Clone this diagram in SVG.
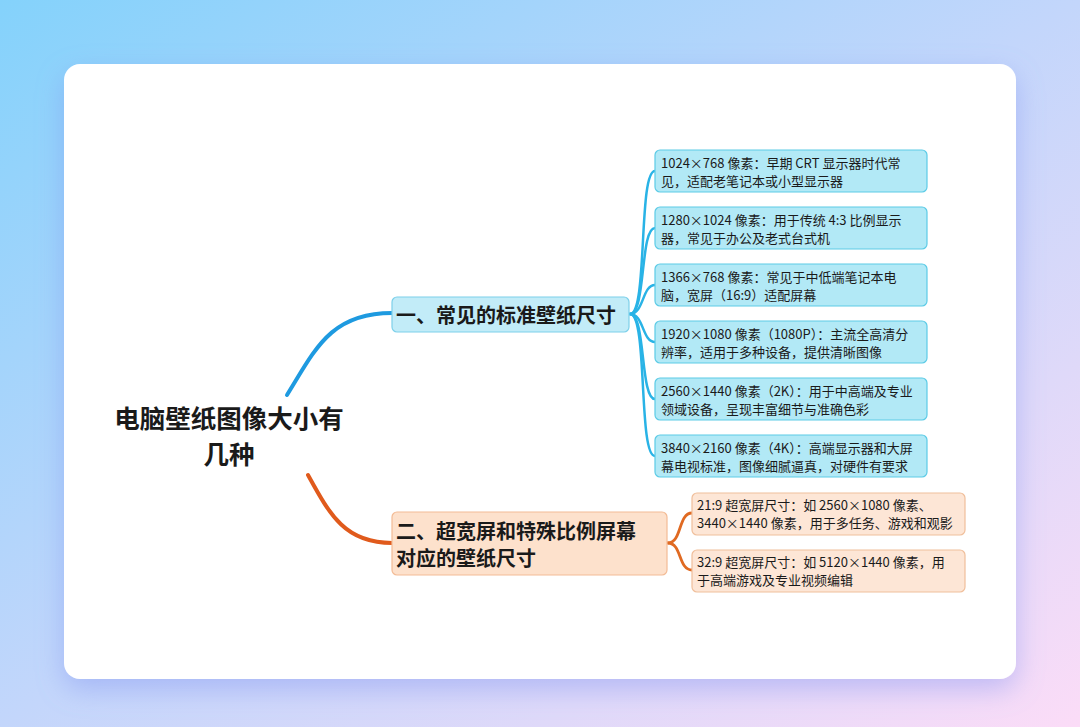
<svg xmlns="http://www.w3.org/2000/svg" width="1080" height="727" viewBox="0 0 1080 727">
  <defs>
    <linearGradient id="bg" x1="0" y1="0" x2="1" y2="1">
      <stop offset="0" stop-color="#84d2fb"/>
      <stop offset="0.5" stop-color="#c3d6fb"/>
      <stop offset="1" stop-color="#fbdcf7"/>
    </linearGradient>
    <filter id="shadow" x="-10%" y="-10%" width="120%" height="125%">
      <feDropShadow dx="0" dy="10" stdDeviation="14" flood-color="#7f8ff0" flood-opacity="0.45"/>
    </filter>
    <style>
      .t { font-family: "Noto Sans CJK SC", "Noto Sans", sans-serif; fill: #1a1a1a; }
      .root { font-size: 25.5px; font-weight: 700; }
      .br { font-size: 20px; font-weight: 700; }
      .lf { font-size: 13px; }
      .bBr { fill: #c2ecf8; stroke: #7dd0ea; stroke-width: 1.2; }
      .oBr { fill: #fde1cc; stroke: #f3bb95; stroke-width: 1.2; }
      .bLf { fill: #b2e9f6; stroke: #5ccbe6; stroke-width: 1.2; }
      .oLf { fill: #fde6d6; stroke: #f0bf9b; stroke-width: 1.2; }
      .cb { fill: none; stroke: #1e9ae0; stroke-width: 4; stroke-linecap: round; }
      .co { fill: none; stroke: #e05a1c; stroke-width: 4; stroke-linecap: round; }
      .cbl { fill: none; stroke: #29b3e6; stroke-width: 2.5; stroke-linecap: round; }
      .col { fill: none; stroke: #e06a22; stroke-width: 2.8; stroke-linecap: round; }
    </style>
  </defs>
  <rect x="0" y="0" width="1080" height="727" fill="url(#bg)"/>
  <rect x="64" y="64" width="952" height="615" rx="16" fill="#ffffff" filter="url(#shadow)"/>

  <g id="connectors">
    <path class="cb" d="M287,395 C315,350 330,313 392,313"/>
    <path class="co" d="M308,475 C330,515 345,543 392,543"/>
    <path class="cbl" d="M630,314 C648,314 638,171 655,171"/>
    <path class="cbl" d="M630,314 C646,314 640,228 655,228"/>
    <path class="cbl" d="M630,314 C644,314 642,285 655,285"/>
    <path class="cbl" d="M630,314 C644,314 642,342 655,342"/>
    <path class="cbl" d="M630,314 C646,314 640,399 655,399"/>
    <path class="cbl" d="M630,314 C648,314 638,456 655,456"/>
    <path class="col" d="M668,543 C682,543 678,513 692,513"/>
    <path class="col" d="M668,543 C682,543 678,570 692,570"/>
  </g>

  <g id="root">
    <text class="t root" x="229" y="428" text-anchor="middle">电脑壁纸图像大小有</text>
    <text class="t root" x="229" y="464" text-anchor="middle">几种</text>
  </g>

  <g id="branch1">
    <rect class="bBr" x="392" y="297" width="237" height="35" rx="5"/>
    <text class="t br" x="396" y="323">一、常见的标准壁纸尺寸</text>
  </g>

  <g id="branch2">
    <rect class="oBr" x="392" y="512" width="275" height="63" rx="5"/>
    <text class="t br" x="396" y="539">二、超宽屏和特殊比例屏幕</text>
    <text class="t br" x="396" y="566">对应的壁纸尺寸</text>
  </g>

  <g id="leaf1">
    <rect class="bLf" x="655" y="150" width="272" height="42" rx="5"/>
    <text class="t lf" x="661" y="168">1024×768 像素：早期 CRT 显示器时代常</text>
    <text class="t lf" x="661" y="186">见，适配老笔记本或小型显示器</text>
  </g>
  <g id="leaf2">
    <rect class="bLf" x="655" y="207" width="272" height="42" rx="5"/>
    <text class="t lf" x="661" y="225">1280×1024 像素：用于传统 4:3 比例显示</text>
    <text class="t lf" x="661" y="243">器，常见于办公及老式台式机</text>
  </g>
  <g id="leaf3">
    <rect class="bLf" x="655" y="264" width="272" height="42" rx="5"/>
    <text class="t lf" x="661" y="282">1366×768 像素：常见于中低端笔记本电</text>
    <text class="t lf" x="661" y="300">脑，宽屏（16:9）适配屏幕</text>
  </g>
  <g id="leaf4">
    <rect class="bLf" x="655" y="321" width="272" height="42" rx="5"/>
    <text class="t lf" x="661" y="339">1920×1080 像素（1080P）：主流全高清分</text>
    <text class="t lf" x="661" y="357">辨率，适用于多种设备，提供清晰图像</text>
  </g>
  <g id="leaf5">
    <rect class="bLf" x="655" y="378" width="272" height="42" rx="5"/>
    <text class="t lf" x="661" y="396">2560×1440 像素（2K）：用于中高端及专业</text>
    <text class="t lf" x="661" y="414">领域设备，呈现丰富细节与准确色彩</text>
  </g>
  <g id="leaf6">
    <rect class="bLf" x="655" y="435" width="272" height="42" rx="5"/>
    <text class="t lf" x="661" y="453">3840×2160 像素（4K）：高端显示器和大屏</text>
    <text class="t lf" x="661" y="471">幕电视标准，图像细腻逼真，对硬件有要求</text>
  </g>

  <g id="leaf7">
    <rect class="oLf" x="692" y="493" width="273" height="42" rx="5"/>
    <text class="t lf" x="697" y="510">21:9 超宽屏尺寸：如 2560×1080 像素、</text>
    <text class="t lf" x="697" y="528">3440×1440 像素，用于多任务、游戏和观影</text>
  </g>
  <g id="leaf8">
    <rect class="oLf" x="692" y="550" width="273" height="42" rx="5"/>
    <text class="t lf" x="697" y="567">32:9 超宽屏尺寸：如 5120×1440 像素，用</text>
    <text class="t lf" x="697" y="585">于高端游戏及专业视频编辑</text>
  </g>
</svg>
